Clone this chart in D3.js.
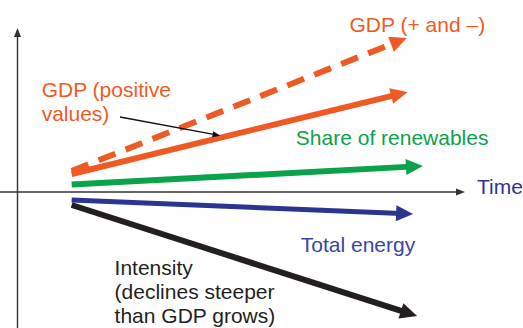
<!DOCTYPE html>
<html>
<head>
<meta charset="utf-8">
<script src="https://cdn.jsdelivr.net/npm/d3@7"></script>
<style>
  html, body { margin: 0; padding: 0; background: #fff; }
  svg { display: block; }
  text { font-family: "Liberation Sans", Arial, sans-serif; font-size: 21px; }
</style>
</head>
<body>
<svg id="chart" width="523" height="328"></svg>
<script>
// Trend lines: each one runs from a start time/value to an end time/value (index units)
const seriesNames  = ["GDP (+ and –)", "GDP (positive values)", "Share of renewables", "Total energy", "Intensity"];
const seriesColors = ["#ef5a24", "#ef5a24", "#0aa24b", "#2b3590", "#231f20"];
const seriesDashed = [true, false, false, false, false];
const startTime    = [12.1, 12.1, 12.1, 12.1, 12.1];
const endTime      = [87.0, 87.2, 90.6, 88.4, 89.3];
const startValue   = [21, 18, 7.5, -8, -13];
const endValue     = [154, 100, 26, -22, -124];

// Annotation labels
const labelLines = [
  ["GDP (+ and –)"],
  ["GDP (positive", "values)"],
  ["Share of renewables"],
  ["Total energy"],
  ["Intensity", "(declines steeper", "than GDP grows)"]
];
const labelColors = ["#ef5a24", "#ef5a24", "#0aa24b", "#3a46a3", "#231f20"];
const labelTime   = [74.2, 5.4, 62.2, 63.3, 21.7];
const labelValue  = [160, 95, 47, -60, -83];
const axisLabel = "Time";

const svg = d3.select("#chart");
const W = 523, H = 328;

// Time runs left to right from the vertical axis to the arrow of the horizontal axis
const x = d3.scaleLinear().domain([0, 100]).range([17.5, 465]);
// Value 0 sits on the time axis
const y = d3.scaleLinear().domain([-136, 164]).range([328, 28]);

const axisColor = "#333";

// Arrow drawing helper: shaft plus a filled triangular head
function arrow(g, x0, y0, x1, y1, opts) {
  const dx = x1 - x0, dy = y1 - y0;
  const len = Math.hypot(dx, dy);
  const ux = dx / len, uy = dy / len;
  const px = -uy, py = ux;
  const hl = opts.headLen, hw = opts.headWidth / 2;
  const bx = x1 - ux * hl, by = y1 - uy * hl;
  const ex = x1 - ux * hl * 0.7, ey = y1 - uy * hl * 0.7;
  const shaft = g.append("path")
    .attr("d", d3.line()([[x0, y0], [ex, ey]]))
    .attr("stroke", opts.color)
    .attr("stroke-width", opts.width)
    .attr("fill", "none")
    .attr("stroke-linecap", "butt");
  if (opts.dash) shaft.attr("stroke-dasharray", opts.dash);
  g.append("path")
    .attr("d", d3.line()([[x1, y1], [bx + px * hw, by + py * hw], [bx - px * hw, by - py * hw]]) + "Z")
    .attr("fill", opts.color);
}

// Axes
const axes = svg.append("g");
arrow(axes, 0, y(0), x(100), y(0), { color: axisColor, width: 1.4, headLen: 9, headWidth: 7 });
arrow(axes, x(0), H, x(0), y(164), { color: axisColor, width: 1.4, headLen: 9, headWidth: 7 });

axes.append("text")
  .attr("x", 477).attr("y", 194)
  .attr("fill", "#2b3590")
  .text(axisLabel);

// Trend arrows
const lines = svg.append("g");
seriesNames.forEach((name, i) => {
  const g = lines.append("g").attr("class", "series").attr("data-name", name);
  arrow(g, x(startTime[i]), y(startValue[i]), x(endTime[i]), y(endValue[i]), {
    color: seriesColors[i],
    width: i === 3 ? 5 : 6,
    headLen: 17,
    headWidth: 16,
    dash: seriesDashed[i] ? "18 11" : null
  });
});

// Labels
const labels = svg.append("g");
labelLines.forEach((ls, i) => {
  const t = labels.append("text")
    .attr("x", x(labelTime[i]))
    .attr("y", y(labelValue[i]))
    .attr("fill", labelColors[i]);
  ls.forEach((s, j) => {
    t.append("tspan")
      .attr("x", x(labelTime[i]))
      .attr("dy", j === 0 ? 0 : 24)
      .text(s);
  });
});

// Leader from the "GDP (positive values)" label to its arrow
const leader = svg.append("g");
const solidIdx = 1;
const tf = 0.443; // fraction along the solid GDP arrow where the leader points
const lx1 = x(startTime[solidIdx]) + (x(endTime[solidIdx]) - x(startTime[solidIdx])) * tf;
const ly1 = y(startValue[solidIdx]) + (y(endValue[solidIdx]) - y(startValue[solidIdx])) * tf - 2;
arrow(leader, 120, 117, lx1, ly1, { color: "#111", width: 1.3, headLen: 8, headWidth: 6 });
</script>
</body>
</html>
